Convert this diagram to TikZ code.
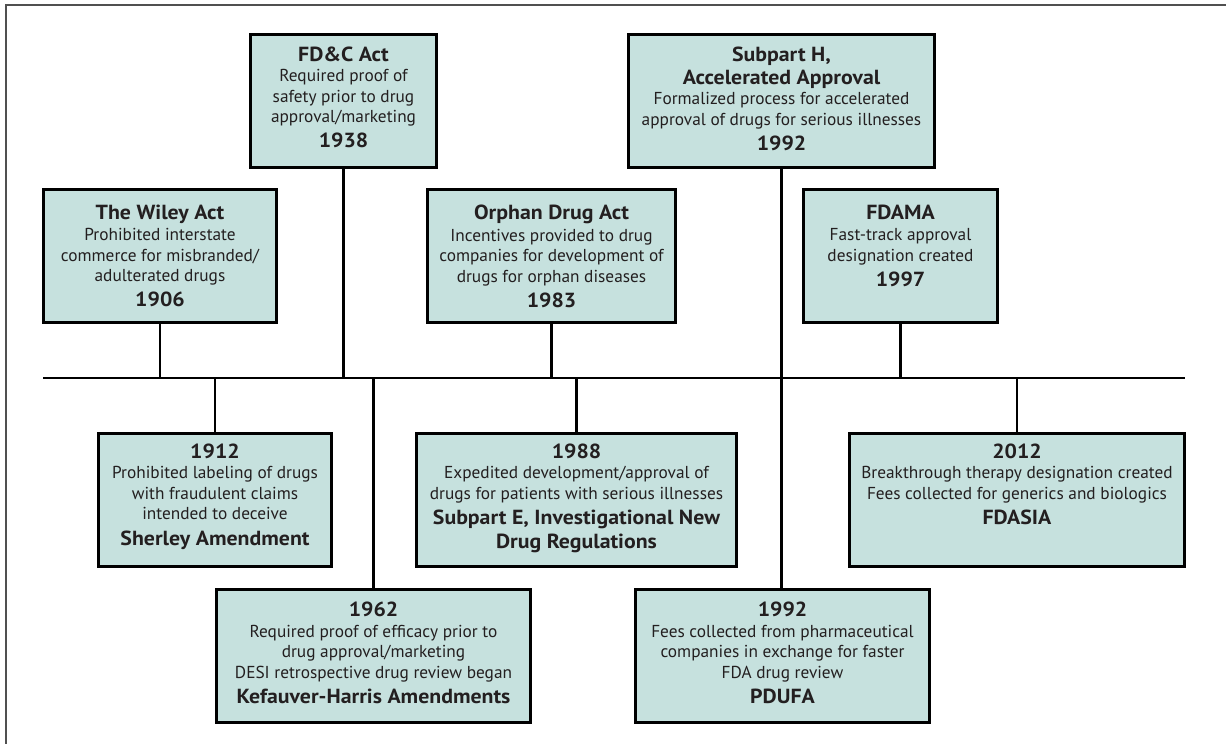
\documentclass[tikz,border=0pt]{standalone}
\usepackage{fontspec}
\setmainfont{PT Sans}
\newfontfamily\boldf{PT Sans}[FakeStretch=1.07]
\definecolor{boxfill}{RGB}{198,225,222}
\definecolor{ink}{RGB}{35,31,32}
\definecolor{framegray}{RGB}{80,80,80}
\newcommand{\bt}[1]{{\boldf\bfseries\fontsize{20.4}{20.5}\selectfont #1}}
\begin{document}
\begin{tikzpicture}[x=1pt,y=-1pt,
  tbox/.style={draw=black, line width=2.8pt, fill=boxfill, inner sep=0pt, minimum height=133.2pt},
  txt/.style={align=center, inner sep=0pt, anchor=north, text=ink, font=\fontsize{17.3}{20.5}\selectfont},
  stem/.style={draw=black, line width=2.7pt}
]
\useasboundingbox (0,0) rectangle (1226,744);
% frame
\draw[framegray, line width=1.2pt] (6,744) -- (6,5) -- (1226,5);

% timeline
\coordinate (tl) at (43,378);
\coordinate (tr) at (1185,378);

% upper boxes
\node[tbox, minimum width=186.2pt] (fdc) at (343.5,101) {};
\node[txt] at ([yshift=-13.6pt]fdc.north) {\bt{FD\&C Act}\\Required proof of\\safety prior to drug\\approval/marketing\\[4.5pt]\bt{1938}};

\node[tbox, minimum width=306.2pt] (subh) at (781.5,101) {};
\node[txt] at ([yshift=-13.6pt]subh.north) {\bt{Subpart H,}\\[2.5pt]\bt{Accelerated Approval}\\Formalized process for accelerated\\approval of drugs for serious illnesses\\[4.5pt]\bt{1992}};

\node[tbox, minimum width=233.2pt] (wiley) at (160,256) {};
\node[txt] at ([yshift=-16.3pt]wiley.north) {\bt{The Wiley Act}\\[1pt]Prohibited interstate\\commerce for misbranded/\\adulterated drugs\\[4.5pt]\bt{1906}};

\node[tbox, minimum width=248.2pt] (orphan) at (551.5,256) {};
\node[txt] at ([yshift=-17pt]orphan.north) {\bt{Orphan Drug Act}\\[1pt]Incentives provided to drug\\companies for development of\\drugs for orphan diseases\\[4.5pt]\bt{1983}};

\node[tbox, minimum width=194.2pt] (fdama) at (900.5,256) {};
\node[txt] at ([yshift=-17pt]fdama.north) {\bt{FDAMA}\\[0.5pt]Fast-track approval\\designation created\\[4.5pt]\bt{1997}};

% lower boxes
\node[tbox, minimum width=233.2pt] (b1912) at (215,500) {};
\node[txt] at ([yshift=-11.6pt]b1912.north) {\bt{1912}\\Prohibited labeling of drugs\\with fraudulent claims\\intended to deceive\\[5pt]\bt{Sherley Amendment}};

\node[tbox, minimum width=320.2pt] (b1988) at (576.5,500) {};
\node[txt] at ([yshift=-11.6pt]b1988.north) {\bt{1988}\\Expedited development/approval of\\drugs for patients with serious illnesses\\[5pt]\bt{Subpart E, Investigational New}\\[3.5pt]\bt{Drug Regulations}};

\node[tbox, minimum width=335.2pt] (b2012) at (1017,500) {};
\node[txt] at ([yshift=-11.6pt]b2012.north) {\bt{2012}\\Breakthrough therapy designation created\\Fees collected for generics and biologics\\[5pt]\bt{FDASIA}};

\node[tbox, minimum width=314.2pt] (b1962) at (373.5,656) {};
\node[txt] at ([yshift=-13.9pt]b1962.north) {\bt{1962}\\Required proof of efficacy prior to\\drug approval/marketing\\DESI retrospective drug review began\\[5pt]\bt{Kefauver-Harris Amendments}};

\node[tbox, minimum width=294.2pt] (pdufa) at (782.5,656) {};
\node[txt] at ([yshift=-13.9pt]pdufa.north) {\bt{1992}\\Fees collected from pharmaceutical\\companies in exchange for faster\\FDA drug review\\[5pt]\bt{PDUFA}};

% connectors
\draw[stem] (tl) -- (tr);
\draw[stem] (wiley.south) -- (wiley.south |- tl);
\draw[stem] (fdc.south) -- (fdc.south |- tl);
\draw[stem] (orphan.south) -- (orphan.south |- tl);
\draw[stem] (subh.south) -- (subh.south |- pdufa.north);
\draw[stem] (fdama.south) -- (fdama.south |- tl);
\draw[stem] (b1912.north) -- (b1912.north |- tl);
\draw[stem] (b1962.north) -- (b1962.north |- tl);
\draw[stem] (b1988.north) -- (b1988.north |- tl);
\draw[stem] (b2012.north) -- (b2012.north |- tl);
\end{tikzpicture}
\end{document}
